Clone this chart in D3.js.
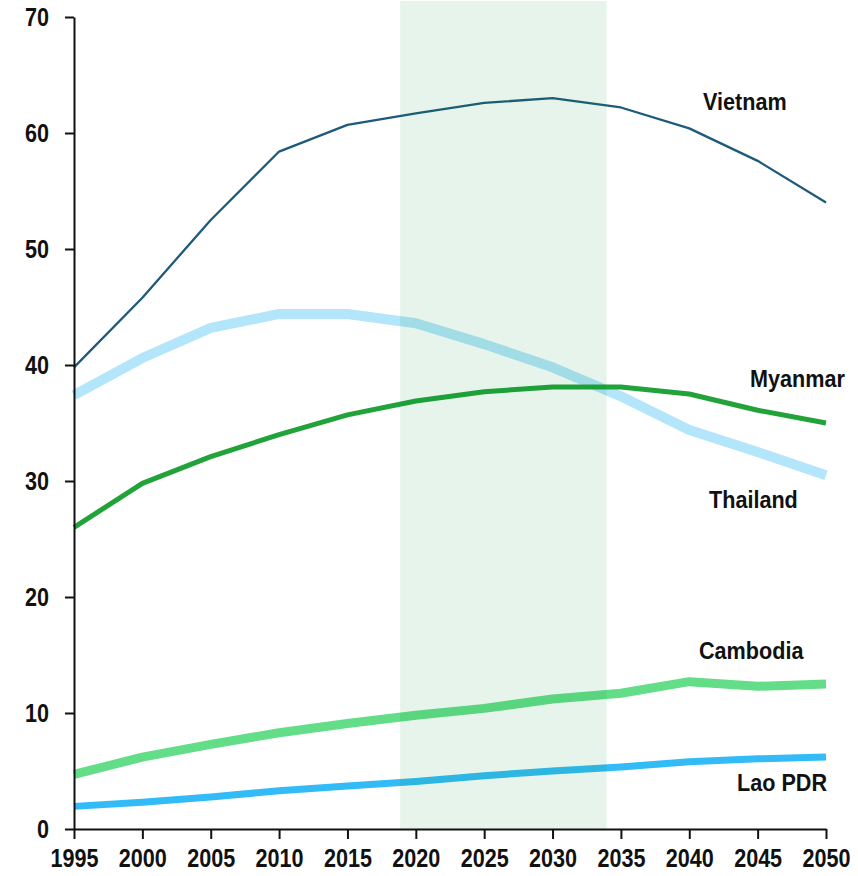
<!DOCTYPE html>
<html>
<head>
<meta charset="utf-8">
<script src="https://cdn.jsdelivr.net/npm/d3@7"></script>
<style>
  body { margin: 0; background: #fff; }
  text { font-family: "Liberation Sans", Arial, sans-serif; font-weight: bold; fill: #111; }
</style>
</head>
<body>
<div id="chart"></div>
<script>
// years on the x axis
var years = [1995, 2000, 2005, 2010, 2015, 2020, 2025, 2030, 2035, 2040, 2045, 2050];

// series values
var vietnam  = [39.8, 45.8, 52.5, 58.4, 60.7, 61.7, 62.6, 63.0, 62.2, 60.4, 57.6, 54.0];
var thailand = [37.4, 40.6, 43.2, 44.4, 44.4, 43.6, 41.8, 39.8, 37.3, 34.4, 32.5, 30.5];
var myanmar  = [26.0, 29.8, 32.1, 34.0, 35.7, 36.9, 37.7, 38.1, 38.1, 37.5, 36.1, 35.0];
var cambodia = [4.7, 6.2, 7.3, 8.3, 9.1, 9.8, 10.4, 11.2, 11.7, 12.7, 12.3, 12.5];
var laoPDR   = [1.95, 2.3, 2.75, 3.3, 3.7, 4.1, 4.6, 5.0, 5.35, 5.8, 6.05, 6.2];

var yTicks = [0, 10, 20, 30, 40, 50, 60, 70];
var band = [2018.85, 2033.95];

var series = [
  { name: "Thailand", values: thailand, color: "#b3e5fb", width: 10, label: [709, 508] },
  { name: "Cambodia", values: cambodia, color: "#64dd88", width: 9,  label: [699, 659] },
  { name: "Lao PDR",  values: laoPDR,   color: "#33bbf7", width: 7,  label: [737, 791] },
  { name: "Myanmar",  values: myanmar,  color: "#22a33a", width: 5,  label: [750, 387] },
  { name: "Vietnam",  values: vietnam,  color: "#1d5a7c", width: 2.3, label: [703, 110] }
];

var width = 858, height = 876;
var squeeze = 0.83;   // narrow look for the tick numbers
var labelSqueeze = 0.9;

var x = d3.scaleLinear().domain([1995, 2050]).range([74, 826]);
var y = d3.scaleLinear().domain([0, 70]).range([829, 17]);

var svg = d3.select("#chart").append("svg")
  .attr("width", width)
  .attr("height", height);

var line = d3.line()
  .x(function(d, i) { return x(years[i]); })
  .y(function(d) { return y(d); });

// lines
svg.selectAll(".series")
  .data(series)
  .enter().append("path")
    .attr("class", "series")
    .attr("d", function(d) { return line(d.values); })
    .attr("fill", "none")
    .attr("stroke", function(d) { return d.color; })
    .attr("stroke-width", function(d) { return d.width; })
    .attr("stroke-linejoin", "round");

// shaded period, drawn over the lines
svg.append("rect")
  .attr("x", x(band[0]))
  .attr("y", 1)
  .attr("width", x(band[1]) - x(band[0]))
  .attr("height", y(0) - 1)
  .attr("fill", "rgb(0,140,40)")
  .attr("fill-opacity", 0.095);

// axes
var yAxis = svg.append("g")
  .attr("transform", "translate(" + x(1995) + ",0)")
  .call(d3.axisLeft(y).tickValues(yTicks).tickSize(9).tickSizeOuter(0).tickPadding(16));

var xAxis = svg.append("g")
  .attr("transform", "translate(0," + y(0) + ")")
  .call(d3.axisBottom(x).tickValues(years).tickFormat(d3.format("d")).tickSize(10).tickSizeOuter(0).tickPadding(10));

[yAxis, xAxis].forEach(function(g) {
  g.selectAll("path, line").attr("stroke", "#111").attr("stroke-width", 2);
  g.selectAll("text").attr("font-size", 26).attr("fill", "#111")
    .attr("transform", "scale(" + squeeze + ",1)");
});
yAxis.selectAll("text").attr("x", -25 / squeeze);

// series labels
svg.selectAll(".label")
  .data(series)
  .enter().append("text")
    .attr("class", "label")
    .attr("transform", function(d) {
      return "translate(" + d.label[0] + "," + d.label[1] + ") scale(" + labelSqueeze + ",1)";
    })
    .attr("font-size", 24)
    .text(function(d) { return d.name; });
</script>
</body>
</html>
